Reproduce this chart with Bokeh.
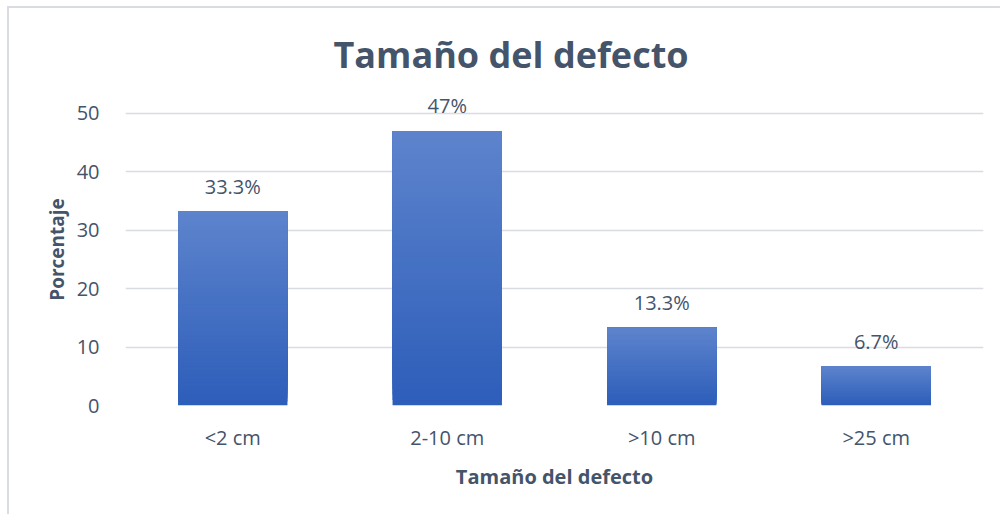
from bokeh.plotting import figure
from bokeh.models import ColumnDataSource, FixedTicker, Range1d, FactorRange
from bokeh.core.properties import value
from bokeh.embed import file_html
from bokeh.resources import INLINE

categories = ["<2 cm", "2-10 cm", ">10 cm", ">25 cm"]
values = [33.3, 47, 13.3, 6.7]
labels = ["33.3%", "47%", "13.3%", "6.7%"]
y_ticks = [0, 10, 20, 30, 40, 50]

TEXT = "#44546A"
FONT = "Open Sans"
TOP_RGB = (0x5E, 0x84, 0xCD)
BOT_RGB = (0x2D, 0x5E, 0xBA)

p = figure(
    x_range=FactorRange(*categories),
    y_range=Range1d(0, 53.42),
    width=993, height=508,
    output_backend="svg", toolbar_location=None,
    min_border_left=116, min_border_right=19,
    min_border_top=85, min_border_bottom=111,
    title="Tamaño del defecto",
    margin=(6, 0, 0, 7),
    styles={"border-left": "2px solid #D9DCE1", "border-top": "2px solid #D9DCE1"},
)
p.outline_line_color = None
p.background_fill_color = "white"
p.border_fill_color = "white"

p.title.text_font = FONT
p.title.text_font_size = "36px"
p.title.text_font_style = "bold"
p.title.text_color = TEXT
p.title.align = "left"
p.title.offset = 208
p.title.standoff = 30

# gradient bars: overlapping slices, each from a fraction of the value up to the value
N = 50
xs, bots, tops, cols = [], [], [], []
for c, v in zip(categories, values):
    for i in range(N):
        f = (i + 0.5) / N
        r = int(BOT_RGB[0] + (TOP_RGB[0] - BOT_RGB[0]) * f)
        g = int(BOT_RGB[1] + (TOP_RGB[1] - BOT_RGB[1]) * f)
        b = int(BOT_RGB[2] + (TOP_RGB[2] - BOT_RGB[2]) * f)
        xs.append(c)
        bots.append(v * i / N)
        tops.append(v)
        cols.append("#%02x%02x%02x" % (r, g, b))
src = ColumnDataSource(dict(x=xs, bottom=bots, top=tops, color=cols))
p.vbar(x="x", bottom="bottom", top="top", width=0.51, source=src,
       fill_color="color", line_color=None)

lsrc = ColumnDataSource(dict(x=categories, y=values, t=labels))
p.text(x="x", y="y", text="t", source=lsrc, text_align="center",
       text_baseline="middle", y_offset=-25, text_font=value(FONT),
       text_font_size="20px", text_color=TEXT)

p.xgrid.grid_line_color = None
p.ygrid.grid_line_color = "#D9DCE1"
p.ygrid.grid_line_width = 1.5
p.yaxis.ticker = FixedTicker(ticks=y_ticks)

for ax in (p.xaxis, p.yaxis):
    ax.axis_line_color = None
    ax.major_tick_line_color = None
    ax.minor_tick_line_color = None
    ax.major_label_text_font = FONT
    ax.major_label_text_font_size = "20px"
    ax.major_label_text_color = TEXT
    ax.axis_label_text_font = FONT
    ax.axis_label_text_font_style = "bold"
    ax.axis_label_text_color = TEXT

p.xaxis.axis_label_text_font_size = "20px"
p.yaxis.axis_label_text_font_size = "19px"
p.xaxis.axis_label = "Tamaño del defecto"
p.yaxis.axis_label = "Porcentaje"
p.xaxis.major_label_standoff = 12
p.xaxis.axis_label_standoff = 9
p.yaxis.major_label_standoff = 20
p.yaxis.axis_label_standoff = 4

open("out.html", "w").write(file_html(p, INLINE))
